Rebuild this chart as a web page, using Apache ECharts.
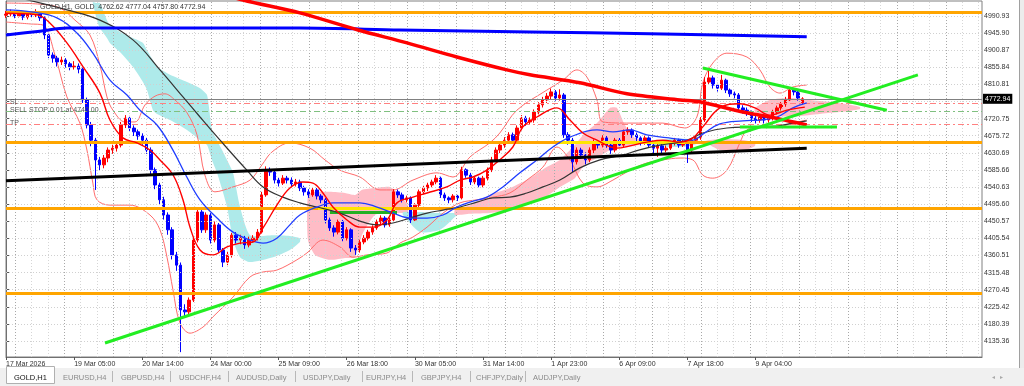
<!DOCTYPE html>
<html><head><meta charset="utf-8">
<script src="https://cdn.jsdelivr.net/npm/echarts@6/dist/echarts.min.js"></script>
<style>html,body{margin:0;padding:0;background:#fff;}#c{width:1024px;height:386px;}</style>
</head><body><div id="c"></div>
<script>
// ---- data (bar index units on x, price on y) ----
const xLabels = ['17 Mar 2026','19 Mar 05:00','20 Mar 14:00','24 Mar 00:00','25 Mar 09:00','26 Mar 18:00','30 Mar 05:00','31 Mar 14:00','1 Apr 23:00','6 Apr 09:00','7 Apr 18:00','9 Apr 04:00'];
const xLabelBars = [0,32,64,96,128,160,192,224,256,288,320,352];
const yTicks = [4135.36,4180.39,4225.42,4270.45,4315.48,4360.51,4405.54,4450.57,4495.60,4540.63,4585.66,4630.69,4675.72,4720.75,4765.78,4810.81,4855.84,4900.87,4945.90,4990.93];
const headerText = 'GOLD,H1, GOLD  4762.62 4777.04 4757.80 4772.94';
const lastPrice = 4772.94;
const orderLevels = [4760, 4740, 4706];
const orderNames = ['SL', 'SELL STOP 0.01 at 4740.00', 'TP'];
const hLevels = [5001, 4659, 4485, 4260];
const tabNames = ['GOLD,H1','EURUSD,H4','GBPUSD,H4','USDCHF,H4','AUDUSD,Daily','USDJPY,Daily','EURJPY,H4','GBPJPY,H4','CHFJPY,Daily','AUDJPY,Daily'];

// candles: [open, close, low, high], one every 2 bars
const candles = [
[4993,4996,4986,5004],[4996,5001,4990,5008],[5001,4991,4985,5005],[4991,4999,4987,5006],[4999,4988,4980,5003],
[4988,4996,4982,5002],[4996,4994,4987,5003],[4994,4999,4988,5009],[4999,4986,4978,5004],[4986,4941,4930,4990],
[4941,4888,4880,4946],[4888,4880,4868,4895],[4880,4870,4858,4886],[4870,4875,4862,4884],[4875,4865,4855,4880],
[4865,4857,4848,4870],[4857,4859,4850,4872],[4859,4851,4840,4866],[4851,4770,4762,4855],[4770,4704,4695,4776],
[4704,4664,4648,4712],[4664,4612,4533,4670],[4612,4599,4585,4620],[4599,4617,4590,4625],[4617,4638,4606,4645],
[4638,4643,4628,4652],[4643,4651,4634,4660],[4651,4704,4645,4712],[4704,4722,4696,4730],[4722,4696,4688,4728],
[4696,4686,4675,4703],[4686,4675,4665,4692],[4675,4664,4652,4682],[4664,4638,4628,4670],[4638,4586,4575,4645],
[4586,4546,4535,4592],[4546,4507,4495,4552],[4507,4467,4455,4515],[4467,4428,4415,4474],[4428,4362,4350,4435],
[4362,4335,4320,4370],[4335,4217,4106,4342],[4217,4212,4198,4232],[4212,4243,4205,4250],[4243,4401,4238,4410],
[4401,4475,4395,4482],[4475,4428,4420,4480],[4428,4467,4420,4474],[4467,4401,4392,4472],[4401,4441,4395,4450],
[4441,4375,4368,4446],[4375,4343,4330,4380],[4343,4362,4335,4370],[4362,4414,4355,4420],[4414,4401,4392,4422],
[4401,4406,4390,4415],[4406,4388,4378,4412],[4388,4401,4382,4410],[4401,4406,4395,4414],[4406,4422,4400,4430],
[4422,4520,4418,4528],[4520,4586,4515,4595],[4586,4580,4570,4592],[4580,4559,4550,4586],[4559,4551,4542,4565],
[4551,4564,4546,4572],[4564,4559,4550,4570],[4559,4549,4540,4566],[4549,4554,4542,4562],[4554,4538,4530,4560],
[4538,4528,4518,4544],[4528,4520,4512,4535],[4520,4533,4515,4540],[4533,4517,4508,4538],[4517,4507,4498,4522],
[4507,4454,4445,4512],[4454,4433,4425,4460],[4433,4422,4410,4440],[4422,4449,4416,4455],[4449,4406,4398,4454],
[4406,4428,4400,4435],[4428,4380,4370,4432],[4380,4375,4362,4388],[4375,4396,4368,4402],[4396,4406,4390,4414],
[4406,4422,4400,4428],[4422,4433,4415,4440],[4433,4449,4428,4455],[4449,4459,4442,4466],[4459,4441,4434,4464],
[4441,4454,4436,4460],[4454,4528,4450,4535],[4528,4520,4512,4534],[4520,4507,4500,4526],[4507,4512,4500,4518],
[4512,4454,4446,4516],[4454,4493,4450,4498],[4493,4528,4488,4534],[4528,4538,4522,4545],[4538,4546,4530,4552],
[4546,4554,4540,4560],[4554,4564,4548,4572],[4564,4520,4512,4568],[4520,4512,4504,4526],[4512,4507,4498,4516],
[4507,4517,4500,4522],[4517,4512,4504,4520],[4512,4586,4508,4594],[4586,4572,4565,4590],[4572,4554,4546,4578],
[4554,4564,4548,4570],[4564,4546,4540,4568],[4546,4564,4540,4570],[4564,4586,4558,4592],[4586,4612,4580,4620],
[4612,4638,4606,4645],[4638,4651,4630,4658],[4651,4664,4644,4672],[4664,4678,4656,4685],[4678,4664,4655,4684],
[4664,4696,4660,4703],[4696,4722,4690,4730],[4722,4712,4702,4728],[4712,4717,4704,4724],[4717,4738,4710,4745],
[4738,4757,4732,4764],[4757,4770,4750,4778],[4770,4780,4762,4788],[4780,4791,4772,4800],[4791,4775,4768,4796],
[4775,4783,4768,4798],[4783,4678,4670,4788],[4678,4664,4652,4685],[4664,4607,4580,4670],[4607,4638,4600,4645],
[4638,4625,4615,4644],[4625,4612,4600,4632],[4612,4638,4606,4645],[4638,4659,4630,4666],[4659,4651,4642,4664],
[4651,4670,4645,4677],[4670,4651,4644,4675],[4651,4638,4628,4656],[4638,4664,4632,4670],[4664,4651,4645,4670],
[4651,4686,4646,4692],[4686,4691,4678,4698],[4691,4678,4670,4695],[4678,4670,4662,4684],[4670,4659,4650,4674],
[4659,4670,4652,4676],[4670,4651,4644,4674],[4651,4643,4630,4656],[4643,4649,4620,4655],[4649,4638,4630,4654],
[4638,4643,4632,4650],[4643,4657,4638,4662],[4657,4664,4650,4670],[4664,4651,4644,4668],[4651,4659,4646,4665],
[4659,4638,4604,4662],[4638,4664,4632,4670],[4664,4670,4658,4676],[4670,4717,4665,4725],[4717,4817,4712,4830],
[4817,4828,4810,4857],[4828,4809,4800,4834],[4809,4801,4792,4815],[4801,4822,4796,4836],[4822,4796,4788,4826],
[4796,4786,4778,4800],[4786,4783,4774,4792],[4783,4749,4740,4788],[4749,4743,4734,4756],[4743,4738,4728,4750],
[4738,4722,4712,4742],[4722,4717,4708,4728],[4717,4725,4710,4732],[4725,4717,4708,4730],[4717,4722,4710,4728],
[4722,4738,4716,4744],[4738,4749,4732,4755],[4749,4759,4742,4766],[4759,4770,4752,4778],[4770,4796,4765,4804],
[4796,4791,4782,4801],[4791,4775,4768,4795],[4762.62,4772.94,4757.80,4777.04]
];

// indicator lines: [bar, price]
const maFast = [[0,4998],[14.6,4994],[20.7,4972],[28.6,4920],[36.2,4857],[44.1,4788],[48.8,4717],[54.9,4670],[61.5,4657],[67.6,4638],[72.3,4612],[78.4,4573],[83.1,4507],[86.4,4435],[91.1,4375],[97.2,4362],[103.8,4383],[109.9,4393],[116,4396],[120.7,4433],[127.2,4493],[133.3,4538],[139.4,4554],[144.1,4551],[148.8,4525],[153.5,4488],[160.1,4454],[166.2,4435],[172.3,4435],[178.9,4454],[183.6,4499],[191.1,4514],[197.7,4525],[207,4541],[213.2,4559],[219.3,4567],[225.8,4585],[231.8,4612],[238,4646],[242.7,4699],[249.3,4725],[258.7,4749],[264.8,4717],[270.9,4683],[277.5,4664],[286.9,4643],[293,4649],[300.9,4659],[308.4,4664],[316.5,4659],[322.5,4670],[327.2,4699],[335.2,4749],[344.6,4760],[351.7,4749],[358.7,4730],[366.7,4743],[375.1,4751]];
const maBlue = [[0,5007],[12.7,5001],[23.9,4986],[33.3,4946],[40.8,4893],[48.8,4822],[56.8,4783],[62.9,4743],[70.9,4704],[78.4,4638],[84.9,4567],[91.1,4507],[99.1,4459],[106.6,4422],[114.6,4401],[120.7,4393],[127.2,4406],[133.3,4441],[138,4467],[146,4488],[153.5,4499],[166.2,4499],[174.2,4488],[181.7,4472],[189.7,4459],[197.7,4459],[205.2,4467],[211.7,4488],[217.9,4501],[225.8,4514],[233.3,4541],[241.3,4578],[249.3,4612],[256.8,4646],[264.8,4672],[277.5,4691],[285,4686],[293,4691],[300.9,4678],[311.2,4670],[322.5,4664],[327.2,4680],[335.2,4707],[346,4715],[354,4717],[362,4725],[369.5,4749],[376,4762]];
const maBlack = [[6.6,5038],[28.6,5007],[44.1,4980],[59.6,4928],[72.3,4849],[83.1,4778],[91.1,4725],[100.5,4664],[113.1,4585],[120.7,4541],[130,4514],[138,4499],[146,4488],[156.8,4472],[166.2,4451],[174.2,4441],[181.7,4446],[189.7,4459],[197.7,4472],[205.2,4480],[213.2,4488],[221.1,4501],[228.6,4512],[236.6,4514],[244.6,4525],[252.1,4541],[260.1,4559],[269.5,4591],[278.9,4612],[289.7,4625],[297.1,4638],[307,4651],[316.5,4659],[322.5,4670],[327.2,4683],[338.5,4696],[350.7,4699],[362,4701],[369.5,4709],[376,4715]];
const bbUpper = [[0,5025],[16,5022],[25.4,5012],[32.4,4980],[39.4,4941],[44.1,4862],[47.4,4778],[50.2,4743],[55.9,4712],[60.6,4712],[65.3,4757],[70,4780],[74.6,4786],[79.3,4770],[85,4736],[89.7,4678],[93.4,4572],[98.1,4528],[106.6,4541],[114.6,4559],[120.2,4599],[124.9,4633],[133.3,4657],[142.7,4643],[149.8,4612],[156.8,4585],[166.2,4567],[175.6,4533],[181.7,4533],[191.1,4559],[202.4,4578],[209.9,4567],[217.9,4620],[227.2,4657],[231.9,4683],[239.9,4743],[254,4796],[261.5,4822],[268.1,4849],[272.8,4830],[277.5,4770],[280.3,4712],[293,4709],[308.4,4709],[318.8,4696],[324.4,4725],[327.2,4815],[331.9,4867],[338.5,4893],[347.9,4883],[354,4849],[358.7,4804],[363.4,4788],[369.5,4804],[376,4809]];
const bbLower = [[0,4975],[11.3,4970],[17.4,4967],[23,4888],[28.6,4778],[34.7,4709],[38,4638],[40.8,4551],[42.7,4507],[48.8,4493],[58.2,4493],[67.6,4467],[72.3,4428],[75.6,4356],[78.4,4270],[81.7,4183],[86.4,4156],[92.5,4172],[97.2,4199],[106.6,4251],[114.6,4304],[120.7,4317],[127.2,4322],[136.6,4349],[141.3,4367],[148.8,4401],[156.8,4383],[162.9,4356],[169.5,4362],[178.9,4367],[185,4393],[191.1,4409],[197.7,4435],[205.2,4472],[213.2,4499],[221.1,4507],[228.6,4514],[236.6,4525],[244.6,4559],[252.1,4593],[258.7,4646],[264.8,4612],[270.9,4551],[277.5,4541],[285,4559],[293,4585],[300.9,4604],[308.4,4612],[316.5,4617],[322.5,4612],[327.2,4572],[331.9,4564],[338.5,4585],[344.6,4657],[347.9,4691],[354,4699],[362,4699],[369.5,4709],[376,4717]];
const maBlueSlow = [[0,4941],[16,4951],[28.6,4959],[91.1,4959],[138,4959],[185,4954],[246,4949],[302.4,4944],[376,4936]];
const maRedSlow = [[91.1,5065],[111.3,5033],[138,4999],[165.3,4954],[188.3,4920],[211.7,4883],[235.2,4849],[246,4836],[269.5,4815],[291.6,4786],[316.5,4770],[325.8,4765],[346,4738],[358.7,4725],[376,4704]];
const trendBlack = [[0,4557],[376,4643]];
const trendGreenUp = [[46.5,4130],[428.2,4836]];
const trendGreenDown = [[327.2,4854],[413.6,4743]];
const trendGreenFlat = [[344.6,4699],[390.2,4699]];
const kijunSeg = [[152.1,4475],[183.6,4475]];
const yellowSegs = [[[146.5,4485],[182.6,4485]],[[260.1,4659],[318.8,4659]]];
// clouds: [bar, top, bottom]
const cyanCloud1 = [[40.8,5028,5025],[42.7,5025,4980],[44.1,5025,4959],[47.4,4980,4933],[48.8,4967,4920],[53.5,4949,4896],[59.6,4933,4857],[64.3,4920,4817],[66.2,4901,4796],[69,4875,4743],[70.9,4857,4733],[77,4836,4717],[85,4817,4691],[91.1,4801,4664],[94.4,4783,4651],[96.7,4691,4612],[99.1,4664,4578],[103.8,4612,4488],[106.6,4578,4401],[109.9,4488,4356],[114.6,4414,4343],[125.4,4414,4356],[133.3,4412,4375],[138,4406,4396]];
const pinkCloud1 = [[141.8,4520,4401],[145.1,4528,4362],[152.1,4528,4349],[159.2,4525,4354],[163.9,4520,4356],[167.1,4533,4414],[173.2,4538,4467],[180.3,4541,4472],[185,4520,4472],[188.7,4493,4475]];
const cyanCloud2 = [[186.4,4475,4467],[194.4,4475,4422],[203.8,4472,4428],[211.7,4472,4467]];
const pinkCloud2 = [[210.8,4480,4467],[217.9,4493,4470],[227.2,4520,4472],[236.6,4538,4480],[246,4564,4499],[253.1,4591,4514],[260.1,4612,4541],[267.1,4651,4564],[271.8,4683,4599],[277.5,4709,4617],[283.6,4749,4638],[286.9,4749,4643],[290.6,4704,4646],[295.3,4670,4649],[300,4664,4657]];
const cyanCloud3 = [[302.4,4659,4654],[311.7,4667,4646],[321.1,4667,4649],[325.8,4659,4657]];
const pinkCloud3 = [[328.2,4662,4659],[335.2,4667,4638],[347,4664,4638],[351.7,4657,4649]];
const pinkCloud4 = [[351.7,4749,4738],[358.7,4770,4730],[368.1,4775,4725],[377.5,4770,4730],[386.9,4765,4736],[396.3,4757,4741],[401,4751,4746]];

// ---- chart ----
const CYAN = '#aeeaea', PINK = '#ffbcc6';
const clouds = [[cyanCloud1,CYAN],[pinkCloud1,PINK],[cyanCloud2,CYAN],[pinkCloud2,PINK],[cyanCloud3,CYAN],[pinkCloud3,PINK],[pinkCloud4,PINK]];
const FONT = 'Liberation Sans';
const xMax = 458.3;

const vGrid = [];
for (let k = 0; 4.3 + k * 23 / 3 < xMax; k++) {
  vGrid.push({xAxis: 4.3 + k * 23 / 3, lineStyle: {color: k % 3 === 0 ? '#a8a8a8' : '#d6d6d6', type: [1, 2], width: 1}});
}
const hGrid = yTicks.map(v => ({yAxis: v}));

function lineSeries(data, color, width, z, smooth) {
  return {type: 'line', data: data, symbol: 'none', smooth: smooth || 0, z: z, silent: true,
    lineStyle: {color: color, width: width}, animation: false};
}

const chart = echarts.init(document.getElementById('c'), null, {renderer: 'canvas'});
chart.setOption({
  animation: false,
  backgroundColor: '#fff',
  grid: {left: 6, right: 42, top: 1, bottom: 29, show: true, borderColor: '#808080', borderWidth: 1, backgroundColor: '#fff'},
  xAxis: {
    type: 'value', min: 0, max: xMax,
    axisLine: {show: true, lineStyle: {color: '#707070'}},
    axisTick: {show: true, customValues: xLabelBars, length: 3, lineStyle: {color: '#555'}},
    axisLabel: {customValues: xLabelBars, align: 'left', margin: 4, fontSize: 7, color: '#333', fontFamily: FONT,
      formatter: v => { const i = xLabelBars.indexOf(Math.round(v)); return i >= 0 ? xLabels[i] : ''; }},
    splitLine: {show: false}
  },
  yAxis: {
    type: 'value', position: 'right', min: 4093.2, max: 5030.4, scale: true,
    axisLine: {show: true, lineStyle: {color: '#707070'}},
    axisTick: {show: true, customValues: yTicks, length: 3, lineStyle: {color: '#555'}},
    axisLabel: {customValues: yTicks, margin: 2, fontSize: 7, color: '#333', fontFamily: FONT,
      formatter: v => Number(v).toFixed(2)},
    splitLine: {show: false}
  },
  series: [
    // grid
    {type: 'line', data: [], z: 0, silent: true,
      markLine: {silent: true, symbol: ['none', 'none'], label: {show: false}, animation: false,
        lineStyle: {color: '#d0d0d0', type: [1, 2], width: 1},
        data: vGrid.concat(hGrid)}},
    // ichimoku clouds
    {type: 'custom', z: 1, silent: true, clip: true,
      data: clouds.map(c => [c[0][0][0], c[0][0][1]]),
      renderItem: (params, api) => {
        const c = clouds[params.dataIndex];
        const rows = c[0];
        const pts = rows.map(r => api.coord([r[0], r[1]]))
          .concat(rows.slice().reverse().map(r => api.coord([r[0], r[2]])));
        return {type: 'polygon', shape: {points: pts, smooth: 0.2}, style: {fill: c[1]}};
      }},
    // horizontal levels
    {type: 'line', data: [], z: 2, silent: true,
      markLine: {silent: true, symbol: ['none', 'none'], label: {show: false}, animation: false,
        lineStyle: {color: '#ffa500', width: 3, type: 'solid'},
        data: hLevels.map(v => ({yAxis: v})).concat(
          yellowSegs.map(s => [{coord: s[0], lineStyle: {color: '#ffe600', width: 3}}, {coord: s[1]}]),
          [[{coord: kijunSeg[0], lineStyle: {color: '#22b022', width: 3}}, {coord: kijunSeg[1]}]])}},
    lineSeries(bbUpper, '#ff6b6b', 1, 3, 0.35),
    lineSeries(bbLower, '#ff6b6b', 1, 3, 0.35),
    {type: 'candlestick', z: 4, silent: true, barWidth: 3,
      data: candles.map((c, i) => [i * 2, c[0], c[1], c[2], c[3]]),
      encode: {x: 0, y: [1, 2, 3, 4]},
      itemStyle: {color: '#ff0000', color0: '#0000ff', borderColor: '#ff0000', borderColor0: '#0000ff', borderWidth: 1}},
    lineSeries(maBlack, '#333333', 1.2, 5, 0.4),
    lineSeries(maBlue, '#1f3dff', 1.3, 5, 0.4),
    lineSeries(maFast, '#ff0000', 1.4, 5, 0.4),
    lineSeries(maBlueSlow, '#0000ff', 3, 5, 0.3),
    lineSeries(maRedSlow, '#ff0000', 3.5, 5, 0.3),
    lineSeries(trendBlack, '#000000', 3, 6),
    lineSeries(trendGreenUp, '#22ee22', 3, 6),
    lineSeries(trendGreenDown, '#22ee22', 3, 6),
    lineSeries(trendGreenFlat, '#22ee22', 3, 6),
    // orders and last price
    {type: 'line', data: [], z: 7, silent: true,
      markLine: {silent: true, symbol: ['none', 'none'], animation: false,
        data: orderLevels.map((v, i) => ({yAxis: v,
          lineStyle: {color: i === 1 ? '#80c080' : '#ff8080', type: [6, 3, 2, 3], width: 1},
          label: {show: true, position: 'insideStartTop', distance: [4, -2], formatter: orderNames[i],
            fontSize: 7, color: '#555', fontFamily: FONT}})).concat([
          {yAxis: lastPrice, lineStyle: {color: '#808080', type: 'solid', width: 1},
            label: {show: true, position: 'end', distance: 1, formatter: lastPrice.toFixed(2),
              backgroundColor: '#000', color: '#fff', fontSize: 7, padding: [2, 2, 1, 2], fontFamily: FONT}}])}}
  ],
  graphic: [
    {type: 'text', left: 40, top: 4, z: 100, style: {text: headerText, fontSize: 7, fill: '#333', fontFamily: FONT}},
    {type: 'rect', left: 0, top: 368, z: 90, shape: {width: 1024, height: 18}, style: {fill: '#f0f0f0'}},
    {type: 'rect', left: 1019, top: 0, z: 90, shape: {width: 5, height: 368}, style: {fill: '#ececec'}},
    {type: 'line', z: 91, shape: {x1: 1019.5, y1: 0, x2: 1019.5, y2: 368}, style: {stroke: '#a0a0a0'}},
    {type: 'rect', z: 92, shape: {x: 6.5, y: 366.5, width: 48, height: 17}, style: {fill: '#fff', stroke: '#b0b0b0'}},
    {type: 'text', z: 95, style: {text: '◂   ▸', x: 992, y: 374, fontSize: 6, fill: '#aaa', fontFamily: FONT}}
  ].concat(tabNames.map((t, i) => ({type: 'text', z: 95,
    style: {text: t, x: [14, 63, 121, 179, 236, 303, 366, 421, 476, 533][i], y: 373.5,
      fontSize: 7.5, fill: i === 0 ? '#111' : '#8a8a8a', fontFamily: FONT}})))
   .concat([112, 170, 228, 295, 362, 412, 470, 525].map(x => ({type: 'line', z: 95,
    shape: {x1: x + 0.5, y1: 371, x2: x + 0.5, y2: 382}, style: {stroke: '#b8b8b8'}})))
});
</script>
</body></html>
